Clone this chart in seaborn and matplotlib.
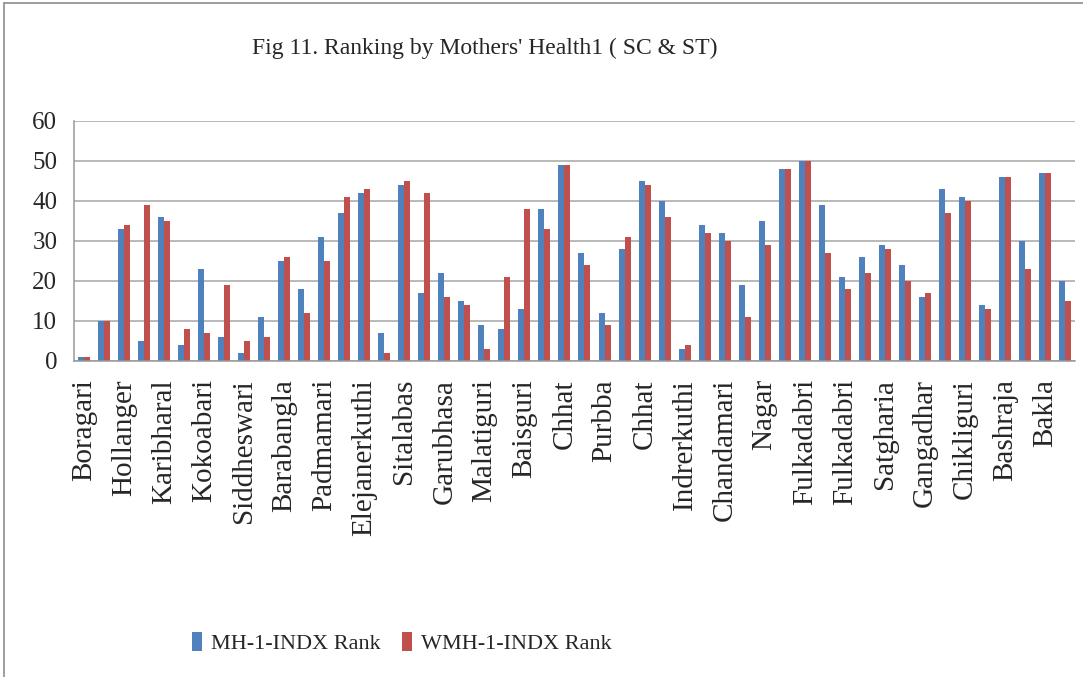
import pandas as pd
import numpy as np
import matplotlib.pyplot as plt
import seaborn as sns
from matplotlib.lines import Line2D

# villages that get a label on the axis (every second category)
shown_labels = ['Boragari', 'Hollanger', 'Karibharal', 'Kokoabari', 'Siddheswari',
                'Barabangla', 'Padmamari', 'Elejanerkuthi', 'Sitalabas', 'Garubhasa',
                'Malatiguri', 'Baisguri', 'Chhat', 'Purbba', 'Chhat', 'Indrerkuthi',
                'Chandamari', 'Nagar', 'Fulkadabri', 'Fulkadabri', 'Satgharia',
                'Gangadhar', 'Chikliguri', 'Bashraja', 'Bakla']

mh_rank = [1, 10, 33, 5, 36, 4, 23, 6, 2, 11, 25, 18, 31, 37, 42, 7, 44, 17, 22, 15,
           9, 8, 13, 38, 49, 27, 12, 28, 45, 40, 3, 34, 32, 19, 35, 48, 50, 39, 21, 26,
           29, 24, 16, 43, 41, 14, 46, 30, 47, 20]
wmh_rank = [1, 10, 34, 39, 35, 8, 7, 19, 5, 6, 26, 12, 25, 41, 43, 2, 45, 42, 16, 14,
            3, 21, 38, 33, 49, 24, 9, 31, 44, 36, 4, 32, 30, 11, 29, 48, 50, 27, 18, 22,
            28, 20, 17, 37, 40, 13, 46, 23, 47, 15]

series = ['MH-1-INDX Rank', 'WMH-1-INDX Rank']
colors = ['#4F81BD', '#C0504D']

n = len(mh_rank)
df = pd.DataFrame({'idx': list(range(n)) * 2,
                   'rank': mh_rank + wmh_rank,
                   'series': [series[0]] * n + [series[1]] * n})

sns.set_style('white')
plt.rcParams['font.family'] = ['Liberation Serif', 'DejaVu Serif']

fig = plt.figure(figsize=(10.83, 6.77), dpi=100)
ax = fig.add_axes([0.0683, 0.4668, 0.9243, 0.3549])

sns.barplot(data=df, x='idx', y='rank', hue='series', palette=colors,
            width=0.6, saturation=1, linewidth=0, ax=ax, legend=True)

ax.set_ylim(0, 60)
ax.set_yticks(range(0, 61, 10))
ax.yaxis.grid(True, color='#a6a6a6', linewidth=1.1)
ax.set_axisbelow(True)
ax.set_xlim(-0.5, n - 0.5)
ax.set_xlabel('')
ax.set_ylabel('')

ax.set_xticks(range(0, n, 2))
ax.set_xticklabels(shown_labels, rotation=90, fontsize=21)
ax.tick_params(axis='x', length=0, pad=13)
ax.tick_params(axis='y', length=0, pad=12, labelsize=18)

for s in ['top', 'right']:
    ax.spines[s].set_visible(False)
for s in ['left', 'bottom']:
    ax.spines[s].set_color('#999999')
    ax.spines[s].set_linewidth(1.1)

fig.text(0.448, 0.929, "Fig 11. Ranking by Mothers' Health1 ( SC & ST)",
         ha='center', va='center', fontsize=17)

handles, labels = ax.get_legend_handles_labels()
ax.legend_.remove()
fig.legend(handles, labels, loc='center', bbox_to_anchor=(0.371, 0.05),
           ncol=2, frameon=False, fontsize=16, handlelength=0.45,
           handleheight=0.9, handletextpad=0.4, columnspacing=1.0)

# outer chart border (left and top visible)
fig.add_artist(Line2D([4 / 1083, 4 / 1083], [0, 1 - 3 / 677], color='#8c8c8c', lw=1.2))
fig.add_artist(Line2D([4 / 1083, 1], [1 - 3 / 677, 1 - 3 / 677], color='#8c8c8c', lw=1.2))

fig.savefig('out.png', dpi=100)
